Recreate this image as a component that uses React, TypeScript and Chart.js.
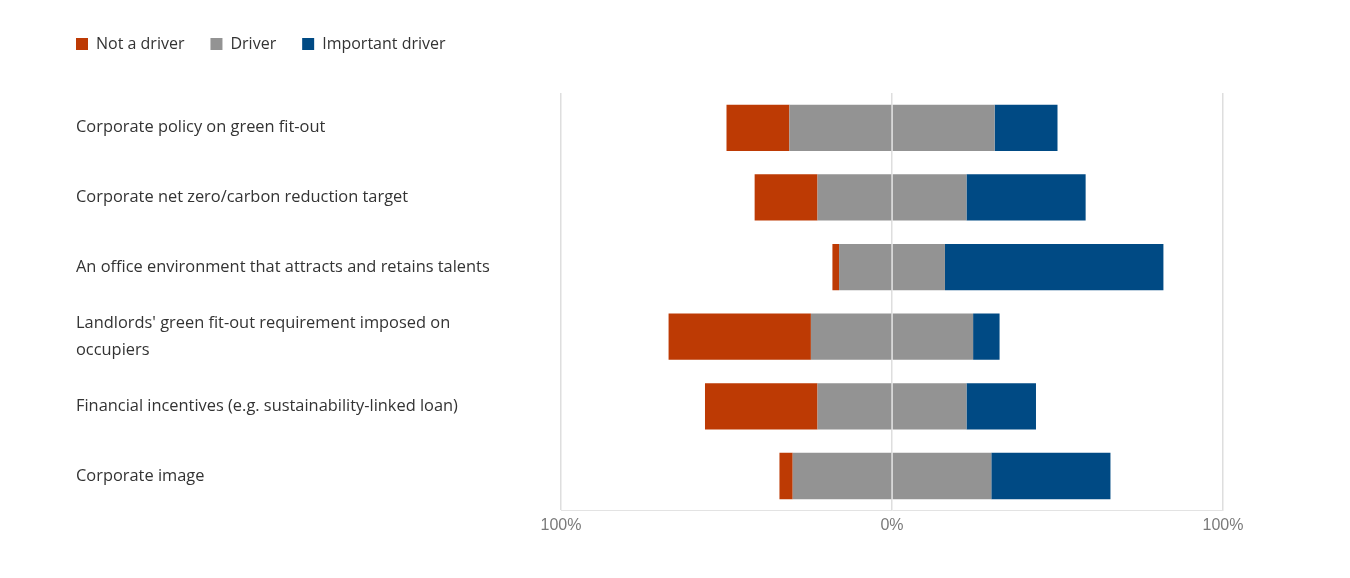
import React, { useEffect, useRef } from "react";
import { Chart, registerables } from "chart.js";

Chart.register(...registerables);

const categories: (string | string[])[] = [
  "Corporate policy on green fit-out",
  "Corporate net zero/carbon reduction target",
  "An office environment that attracts and retains talents",
  ["Landlords' green fit-out requirement imposed on", "occupiers"],
  "Financial incentives (e.g. sustainability-linked loan)",
  "Corporate image",
];

const notDriver = [19, 19, 2, 43, 34, 4];
const driver = [62, 45, 32, 49, 45, 60];
const importantDriver = [19, 36, 66, 8, 21, 36];

const tickValues = [-100, 0, 100];

const RED = "#BD3A04";
const GRAY = "#939393";
const BLUE = "#004A84";
const FONT = "'Open Sans', 'Noto Sans', sans-serif";

const legendShift = {
  id: "legendShift",
  afterLayout(chart: any) {
    const lg = chart.legend;
    if (lg) {
      lg.left -= 26;
      lg.top -= 31;
      lg.bottom -= 31;
    }
  },
};

export default function App() {
  const ref = useRef<HTMLCanvasElement | null>(null);

  useEffect(() => {
    if (!ref.current) return;
    const chart = new Chart(ref.current, {
      type: "bar",
      data: {
        labels: categories,
        datasets: [
          {
            label: "Driver",
            data: driver.map((v) => -v / 2),
            backgroundColor: GRAY,
          },
          {
            label: "Not a driver",
            data: notDriver.map((v) => -v),
            backgroundColor: RED,
          },
          {
            label: "Driver (right)",
            data: driver.map((v) => v / 2),
            backgroundColor: GRAY,
          },
          {
            label: "Important driver",
            data: importantDriver,
            backgroundColor: BLUE,
          },
        ],
      },
      options: {
        indexAxis: "y",
        animation: false,
        responsive: true,
        maintainAspectRatio: false,
        layout: { padding: { left: 68, right: 119, top: 33, bottom: 30 } },
        datasets: { bar: { categoryPercentage: 1, barPercentage: 0.665 } },
        scales: {
          x: {
            stacked: true,
            min: -100,
            max: 100,
            z: 1,
            afterBuildTicks: (scale: any) => {
              scale.ticks = tickValues.map((v) => ({ value: v }));
            },
            grid: { color: "#dedede", lineWidth: 1.5, drawTicks: false },
            border: { display: true, color: "#e3e3e3" },
            ticks: {
              padding: 5,
              color: "#7a7a7a",
              font: { family: "'Liberation Sans', Arial, sans-serif", size: 16 },
              callback: (v: any) => Math.abs(Number(v)) + "%",
            },
          },
          y: {
            stacked: true,
            grid: { display: false },
            border: { display: false },
            afterFit: (scale: any) => {
              scale.width = 485;
            },
            ticks: {
              crossAlign: "far",
              color: "#333333",
              font: { family: FONT, size: 16.4, lineHeight: 1.6 },
            },
          },
        },
        plugins: {
          legend: {
            position: "top",
            align: "start",
            labels: {
              boxWidth: 12,
              boxHeight: 12,
              padding: 26,
              color: "#333333",
              font: { family: FONT, size: 16 },
              filter: (item: any) => item.datasetIndex !== 2,
              sort: (a: any, b: any) => {
                const rank = (i: number) => (i === 1 ? 0 : i === 0 ? 1 : 2);
                return rank(a.datasetIndex) - rank(b.datasetIndex);
              },
            },
          },
          tooltip: { enabled: false },
        },
      },
      plugins: [legendShift],
    } as any);
    return () => chart.destroy();
  }, []);

  return (
    <div style={{ position: "relative", width: "1334px", height: "562px" }}>
      <canvas ref={ref} />
    </div>
  );
}
